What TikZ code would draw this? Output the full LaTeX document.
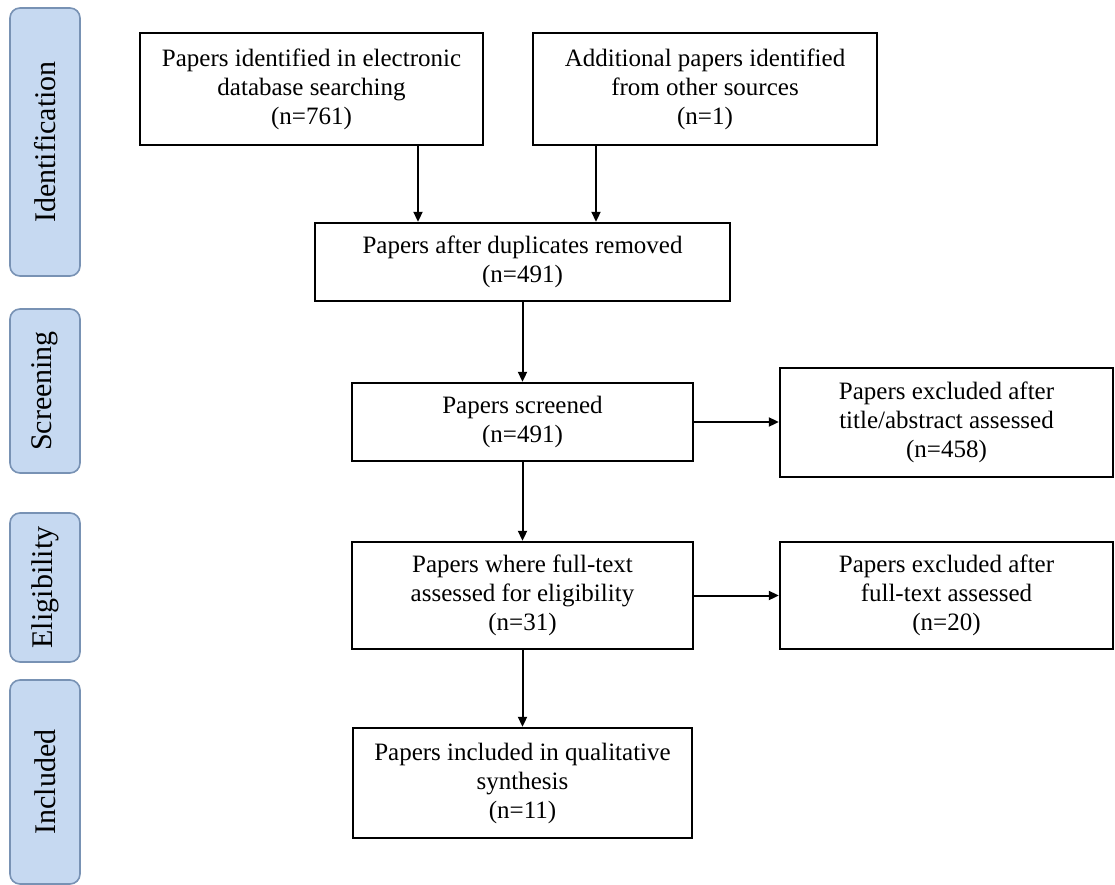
\documentclass[tikz,border=0pt]{standalone}
\usepackage{fontspec}
\setmainfont{Liberation Serif}
\usetikzlibrary{arrows.meta}
\definecolor{phasefill}{RGB}{198,217,241}
\definecolor{phaseborder}{RGB}{120,146,180}
\begin{document}
\begin{tikzpicture}[x=1pt,y=-1pt,
  box/.style={draw=black, line width=2.4pt, align=center, inner sep=0pt,
    font=\fontsize{25}{29}\selectfont},
  phase/.style={draw=phaseborder, fill=phasefill, line width=1.6pt, rounded corners=10pt,
    rotate=90, inner sep=0pt, font=\fontsize{30}{34}\selectfont},
  arr/.style={line width=2pt, -{Triangle[length=10pt,width=9pt]}}]
\useasboundingbox (0,0) rectangle (1115,885);
% phase labels
\node[phase, minimum width=268pt, minimum height=70pt] (s1) at (45,142) {Identification};
\node[phase, minimum width=164pt, minimum height=70pt] (s2) at (45,391) {Screening};
\node[phase, minimum width=149pt, minimum height=70pt] (s3) at (45,587.5) {Eligibility};
\node[phase, minimum width=204pt, minimum height=70pt] (s4) at (45,782) {Included};
% boxes
\node[box, minimum width=343pt, minimum height=112pt] (b1) at (311.5,89)
  {Papers identified in electronic\\database searching\\(n=761)};
\node[box, minimum width=344pt, minimum height=112pt] (b2) at (705,89)
  {Additional papers identified\\from other sources\\(n=1)};
\node[box, minimum width=415pt, minimum height=78pt] (b3) at (522.5,262)
  {Papers after duplicates removed\\(n=491)};
\node[box, minimum width=341pt, minimum height=78pt] (b4) at (522.5,422)
  {Papers screened\\(n=491)};
\node[box, minimum width=333pt, minimum height=109pt] (b5) at (946.5,422.5)
  {Papers excluded after\\title/abstract assessed\\(n=458)};
\node[box, minimum width=341pt, minimum height=107pt] (b6) at (522.5,595.5)
  {Papers where full-text\\assessed for eligibility\\(n=31)};
\node[box, minimum width=333pt, minimum height=107pt] (b7) at (946.5,595.5)
  {Papers excluded after\\full-text assessed\\(n=20)};
\node[box, minimum width=339pt, minimum height=110pt] (b8) at (522.5,783)
  {Papers included in qualitative\\synthesis\\(n=11)};
% connectors
\coordinate (a1) at (418,0);
\coordinate (a2) at (596,0);
\draw[arr] (b1.south -| a1) -- (b3.north -| a1);
\draw[arr] (b2.south -| a2) -- (b3.north -| a2);
\draw[arr] (b3.south) -- (b4.north);
\draw[arr] (b4.east) -- (b4.east -| b5.west);
\draw[arr] (b4.south) -- (b6.north);
\draw[arr] (b6.east) -- (b6.east -| b7.west);
\draw[arr] (b6.south) -- (b8.north);
\end{tikzpicture}
\end{document}
